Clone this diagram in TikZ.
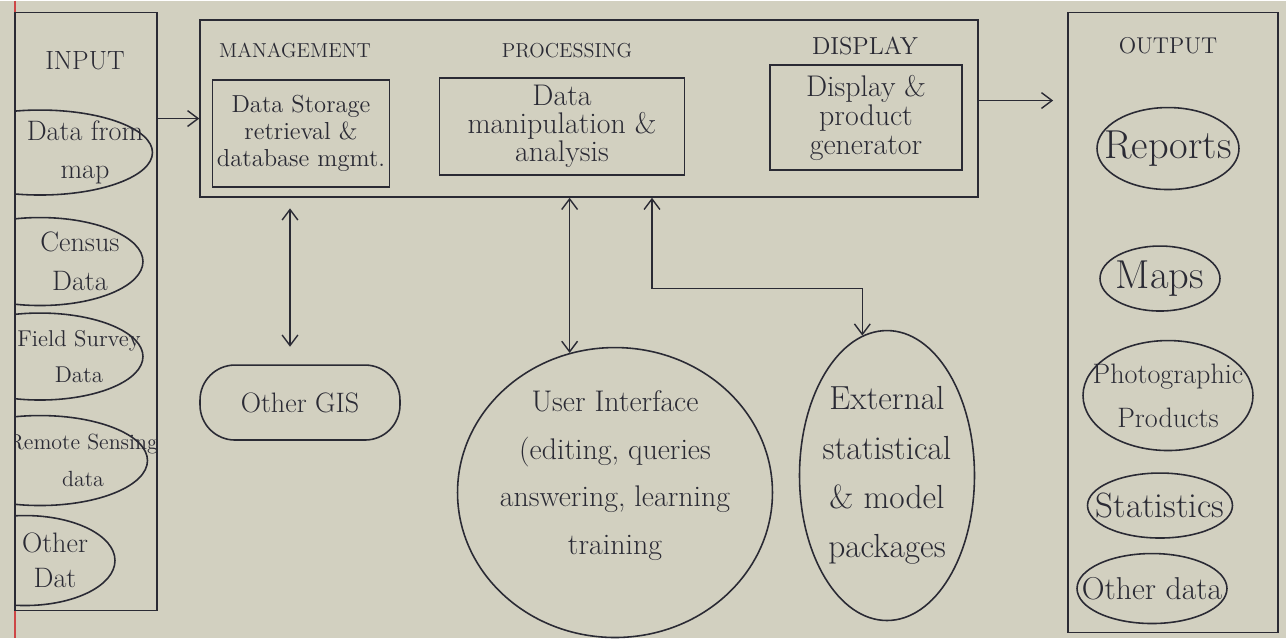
\documentclass[tikz,border=0pt]{standalone}
\usepackage{tikz}
\usetikzlibrary{shapes.geometric,arrows.meta}
\definecolor{paper}{RGB}{210,208,192}
\definecolor{inkcol}{RGB}{42,42,52}
\definecolor{margin}{RGB}{205,70,70}

\begin{document}
\begin{tikzpicture}[%
    x=0.02cm, y=-0.02cm,
    pen/.style={draw=inkcol, line width=0.9pt},
    txt/.style={text=inkcol, align=center},
    fs/.style 2 args={font=\fontsize{#1}{#2}\selectfont},
    head/.style={text=inkcol},
    blob/.style={pen, ellipse, inner sep=0pt},
    frame/.style={pen, rectangle, inner sep=0pt},
    link/.style={draw=inkcol, line width=0.8pt, -{Straight Barb[length=6pt,width=9pt]}},
    both/.style={draw=inkcol, line width=0.8pt, {Straight Barb[length=6pt,width=9pt]}-{Straight Barb[length=6pt,width=9pt]}},
    ]
    \fill[paper] (0,0) rectangle (1286,637);
    \draw[margin, line width=0.6pt] (15,0) -- (15,637);

    \node[frame, minimum width=2.84cm, minimum height=11.96cm] (input) at (86,311) {};
    \node[head, fs={15}{18}] at (85,60) {INPUT};
    \begin{scope}
    \clip (input.north west) rectangle (input.south east);
    \node[blob, minimum width=4.5cm, minimum height=1.7cm, label={[txt, fs={16}{22}, xshift=0.9cm]center:Data from\\map}] (frommap) at (40,152) {};
    \node[blob, minimum width=4.12cm, minimum height=1.76cm, label={[txt, fs={16}{22}, xshift=0.8cm]center:Census\\Data}] (census) at (40,261) {};
    \node[blob, minimum width=4.12cm, minimum height=1.74cm, label={[txt, fs={13}{20}, xshift=0.78cm]center:Field Survey\\Data}] (survey) at (40,356) {};
    \node[blob, minimum width=4.3cm, minimum height=1.8cm, label={[txt, fs={12.5}{21}, xshift=0.86cm]center:Remote Sensing\\data}] (remote) at (40,460) {};
    \node[blob, minimum width=3.6cm, minimum height=1.8cm, label={[txt, fs={16}{20}, xshift=0.6cm]center:Other\\Dat}] (otherdat) at (25,560) {};
    \end{scope}

    \node[frame, minimum width=15.56cm, minimum height=3.54cm] (main) at (589,108) {};
    \node[head, fs={11.5}{14}] at (295,50) {MANAGEMENT};
    \node[head, fs={11.5}{14}] at (567,50) {PROCESSING};
    \node[head, fs={14}{16}] at (865,45) {DISPLAY};
    \node[frame, minimum width=3.54cm, minimum height=2.14cm, label={[txt, fs={14}{15.5}]center:Data Storage\\retrieval \&\\database mgmt.}] (store) at (301,133) {};
    \node[frame, minimum width=4.9cm, minimum height=1.94cm, label={[txt, fs={17}{16}]center:Data\\manipulation \&\\analysis}] (manip) at (562,126) {};
    \node[frame, minimum width=3.84cm, minimum height=2.1cm, label={[txt, fs={17}{16.5}]center:Display \&\\product\\generator}] (disp) at (866,117) {};

    \node[frame, minimum width=4.2cm, minimum height=12.4cm] (output) at (1173,322) {};
    \node[head, fs={13}{16}] at (1168,45) {OUTPUT};
    \node[blob, minimum width=2.84cm, minimum height=1.64cm, label={[txt, fs={23}{26}]center:Reports}] (reports) at (1168,148) {};
    \node[blob, minimum width=2.4cm, minimum height=1.3cm, label={[txt, fs={23}{26}]center:Maps}] (maps) at (1160,278) {};
    \node[blob, minimum width=3.4cm, minimum height=2.2cm, label={[txt, fs={16}{25}]center:Photographic\\Products}] (photo) at (1168,395) {};
    \node[blob, minimum width=2.9cm, minimum height=1.3cm, label={[txt, fs={20}{24}]center:Statistics}] (stats) at (1160,505) {};
    \node[blob, minimum width=3.0cm, minimum height=1.4cm, label={[txt, fs={18}{22}]center:Other data}] (otherdata) at (1152,588) {};

    \node[frame, rounded corners=0.7cm, minimum width=4.0cm, minimum height=1.5cm, label={[txt, fs={16}{20}]center:Other GIS}] (ogis) at (300,402) {};
    \node[blob, minimum width=6.3cm, minimum height=5.8cm, label={[txt, fs={17}{27}, yshift=0.34cm]center:User Interface\\(editing, queries\\answering, learning\\training}] (ui) at (615,492) {};
    \node[blob, minimum width=3.5cm, minimum height=5.8cm, label={[txt, fs={19}{28}]center:External\\statistical\\\& model\\packages}] (ext) at (887,475) {};

    \coordinate (bend) at (652,288);
    \draw[link] (input.east |- 0,118) -- (main.west |- 0,118);
    \draw[link, shorten >=8] (main.east |- 0,100) -- (output.west |- 0,100);
    \draw[both, shorten <=6, shorten >=10] (main.south -| 290,0) -- (ogis.north -| 290,0);
    \draw[both] (main.south -| ui.108) -- (ui.108);
    \draw[both] (main.south -| bend) -- (bend) -| (ext.100);
    \end{tikzpicture}
\end{document}
